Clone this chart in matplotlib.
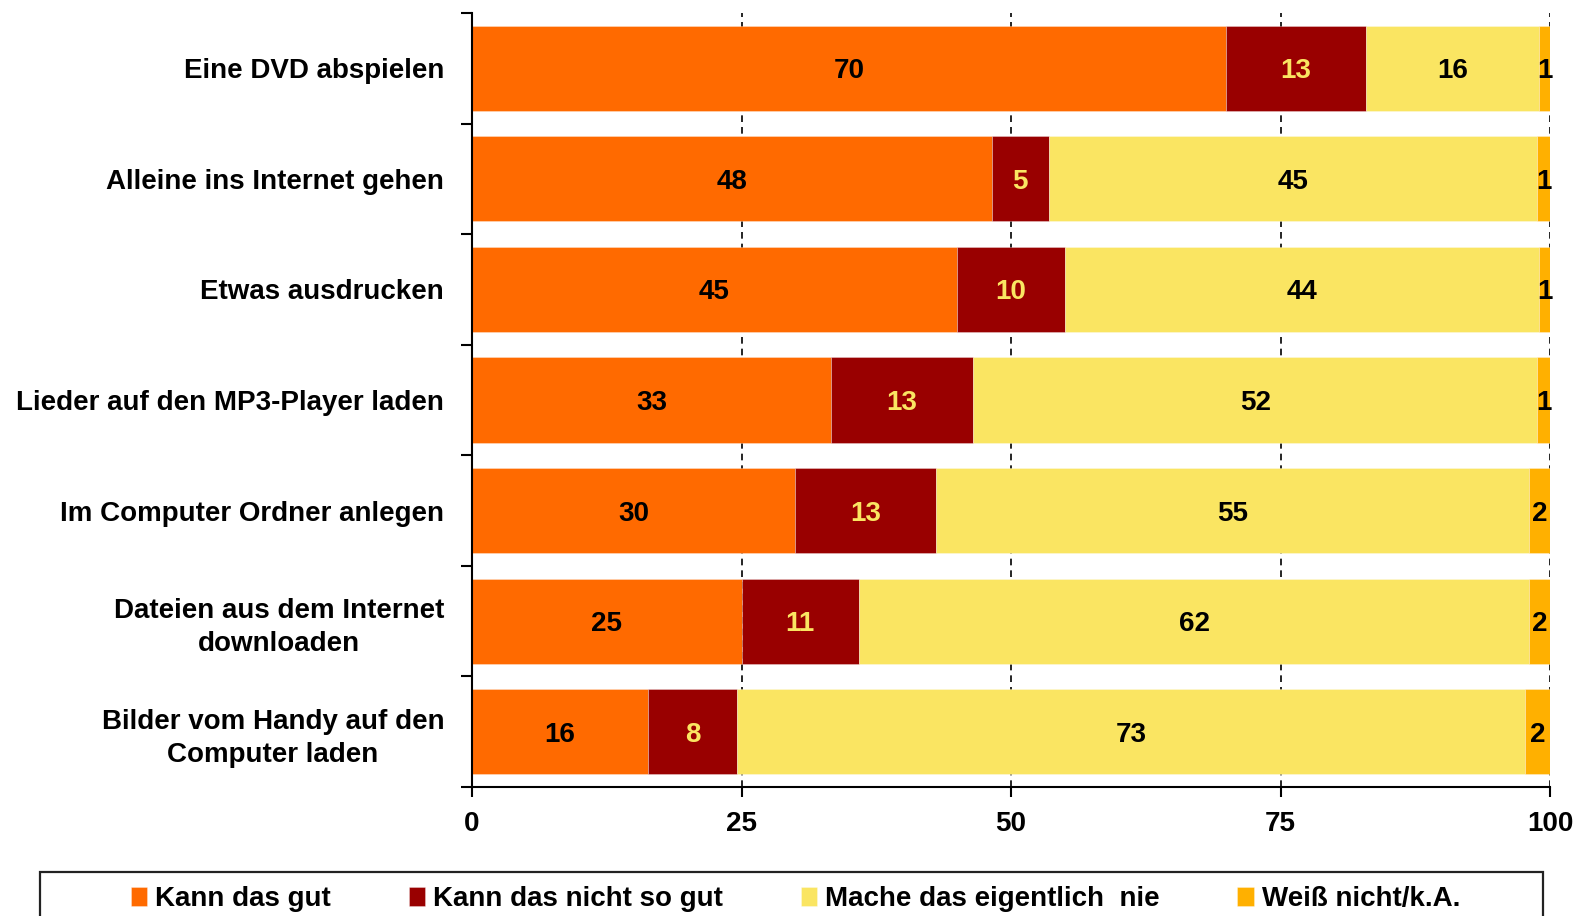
import matplotlib
matplotlib.use("Agg")
import matplotlib.pyplot as plt
from matplotlib.patches import Rectangle

plt.rcParams['font.family'] = ['Liberation Sans', 'DejaVu Sans']
plt.rcParams['font.weight'] = 'bold'

categories = [
    "Eine DVD abspielen",
    "Alleine ins Internet gehen",
    "Etwas ausdrucken",
    "Lieder auf den MP3-Player laden",
    "Im Computer Ordner anlegen",
    "Dateien aus dem Internet\ndownloaden",
    "Bilder vom Handy auf den\nComputer laden",
]
gut = [69.9, 48.2, 44.96, 33.3, 30.0, 25.0, 16.3]
nicht_so_gut = [13.0, 5.3, 10.05, 13.2, 13.0, 10.9, 8.3]
nie = [16.1, 45.3, 44.0, 52.3, 55.05, 62.15, 73.1]
weiss_nicht = [1.0, 1.2, 1.0, 1.2, 1.95, 1.95, 2.3]

series = [gut, nicht_so_gut, nie, weiss_nicht]
names = ["Kann das gut", "Kann das nicht so gut", "Mache das eigentlich  nie", "Weiß nicht/k.A."]
colors = ["#ff6a00", "#990000", "#fae562", "#ffb000"]
label_colors = ["black", "#fae562", "black", "black"]

FS = 20

fig = plt.figure(figsize=(15.77, 9.16), dpi=100)
ax = fig.add_axes([0.2993, 0.1408, 0.9829 - 0.2993, 0.9858 - 0.1408])

y = list(range(len(categories)))
left = [0.0] * len(categories)
handles = []
for vals, name, col, lc in zip(series, names, colors, label_colors):
    bars = ax.barh(y, vals, left=left, height=0.77, color=col, label=name,
                   edgecolor=(1, 1, 1, 0.35), linewidth=0.6, zorder=2)
    for rect, v in zip(bars, vals):
        ax.annotate(str(round(v)),
                    (rect.get_x() + rect.get_width() / 2, rect.get_y() + rect.get_height() / 2),
                    ha='center', va='center_baseline', color=lc,
                    fontsize=FS, fontweight='bold', zorder=3)
    handles.append(bars)
    left = [a + b for a, b in zip(left, vals)]

ax.set_xlim(0, 100)
ax.set_ylim(6.5, -0.5)
ax.set_xticks([0, 25, 50, 75, 100])
ax.tick_params(axis='x', labelsize=FS, length=7, width=1.5, direction='out', pad=10)
ax.set_yticks(y)
ax.set_yticklabels(categories, fontsize=FS, fontweight='bold',
                   multialignment='center', linespacing=1.35)
ax.tick_params(axis='y', which='major', length=0, pad=20)
ax.set_yticks([i - 0.5 for i in range(len(categories) + 1)], minor=True)
ax.tick_params(axis='y', which='minor', length=8, width=1.5, direction='out')

ax.grid(axis='x', color='black', linestyle=(0, (4, 3)), linewidth=1.2, zorder=0)
ax.set_axisbelow(True)
for s in ['top', 'right']:
    ax.spines[s].set_visible(False)
for s in ['left', 'bottom']:
    ax.spines[s].set_linewidth(1.5)

fig.patches.append(Rectangle((40 / 1577, -0.02), 1503 / 1577, 0.068,
                             transform=fig.transFigure, fill=False,
                             edgecolor='#222222', linewidth=1.6))
fig.legend(handles=handles, labels=names, loc='center', bbox_to_anchor=(0.5044, 0.0185),
           ncol=4, frameon=False, fontsize=FS, handlelength=0.6, handleheight=0.65,
           handletextpad=0.28, columnspacing=2.8, borderpad=0)

fig.savefig("out.png", dpi=100)
